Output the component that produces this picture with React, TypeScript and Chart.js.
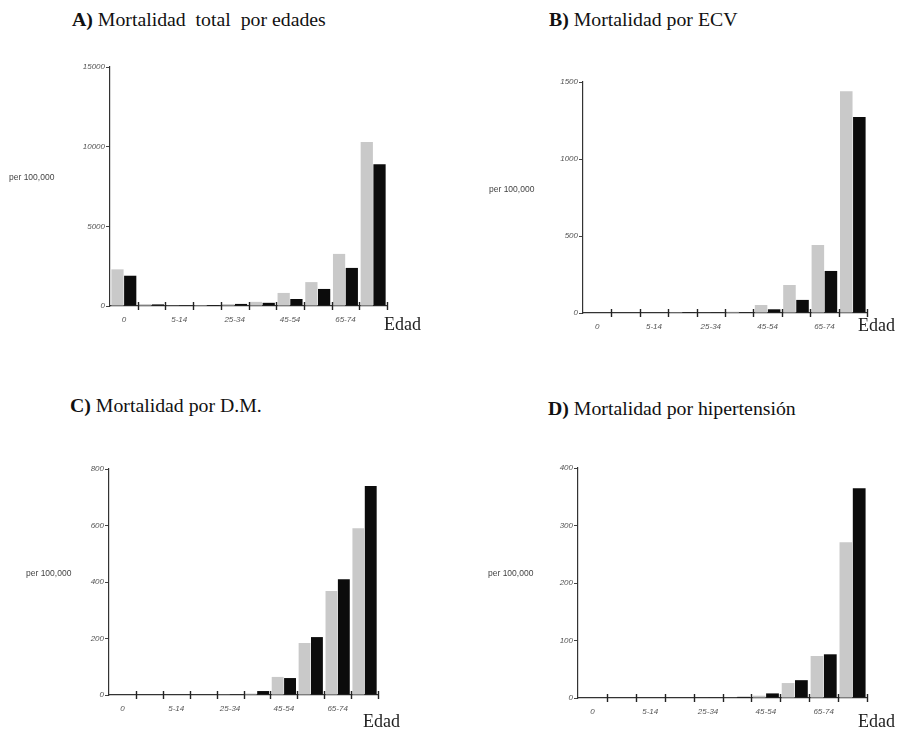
import React, { useEffect, useRef } from "react";
import { Chart, registerables } from "chart.js";
Chart.register(...registerables);

const ageGroups = ["0", "1-4", "5-14", "15-24", "25-34", "35-44", "45-54", "55-64", "65-74", "75+"];
const shownAgeLabels = ["0", "", "5-14", "", "25-34", "", "45-54", "", "65-74", ""];

const totalGrey = [2300, 120, 40, 60, 120, 260, 820, 1500, 3270, 10300];
const totalBlack = [1900, 100, 40, 60, 130, 200, 440, 1070, 2390, 8900];

const ecvGrey = [0, 0, 0, 1, 3, 8, 52, 182, 441, 1440];
const ecvBlack = [0, 0, 0, 1, 2, 5, 24, 85, 273, 1273];

const dmGrey = [0, 0, 0, 0, 1, 5, 64, 184, 368, 590];
const dmBlack = [0, 0, 0, 0, 2, 14, 60, 205, 410, 740];

const htaGrey = [0, 0, 0, 0, 0, 1, 4, 26, 73, 271];
const htaBlack = [0, 0, 0, 0, 1, 2, 8, 31, 76, 365];

const panels = [
  { key: "A", letter: "A)", title: " Mortalidad  total  por edades", grey: totalGrey, black: totalBlack, max: 15000, step: 5000, axisX: 110, right: 387, topY: 67, zeroY: 306, titleX: 72, titleY: 10, perX: 9, perY: 172, edadX: 384, edadY: 315 },
  { key: "B", letter: "B)", title: " Mortalidad por ECV", grey: ecvGrey, black: ecvBlack, max: 1500, step: 500, axisX: 583, right: 867, topY: 82, zeroY: 313, titleX: 549, titleY: 10, perX: 489, perY: 184, edadX: 858, edadY: 316 },
  { key: "C", letter: "C)", title: " Mortalidad por D.M.", grey: dmGrey, black: dmBlack, max: 800, step: 200, axisX: 109, right: 378, topY: 469, zeroY: 695, titleX: 70, titleY: 396, perX: 26, perY: 568, edadX: 363, edadY: 712 },
  { key: "D", letter: "D)", title: " Mortalidad por hipertensión", grey: htaGrey, black: htaBlack, max: 400, step: 100, axisX: 578, right: 867, topY: 468, zeroY: 698, titleX: 548, titleY: 399, perX: 488, perY: 568, edadX: 858, edadY: 712 },
];

const PADL = 60;
const PADT = 12;
const PADR = 12;
const PADB = 28;

const crossTicks = {
  id: "crossTicks",
  afterDraw(chart: any) {
    const xs = chart.scales.x;
    const area = chart.chartArea;
    const ctx = chart.ctx;
    const n = xs.ticks.length;
    ctx.save();
    ctx.strokeStyle = "#222";
    ctx.lineWidth = 1.4;
    for (let i = 1; i <= n; i++) {
      const x = Math.round(xs.getPixelForValue(i - 0.5)) + 0.5;
      ctx.beginPath();
      ctx.moveTo(x, area.bottom - 4);
      ctx.lineTo(x, area.bottom + 4);
      ctx.stroke();
    }
    ctx.restore();
  },
};

function Panel({ p }: { p: any }) {
  const ref = useRef<HTMLCanvasElement>(null);
  useEffect(() => {
    const chart = new Chart(ref.current!, {
      type: "bar",
      data: {
        labels: ageGroups,
        datasets: [
          { data: p.grey, backgroundColor: "#c9c9c9", borderWidth: 0 },
          { data: p.black, backgroundColor: "#0c0c0c", borderWidth: 0 },
        ],
      },
      options: {
        animation: false,
        responsive: false,
        maintainAspectRatio: false,
        layout: { padding: { top: PADT, right: PADR, left: 0, bottom: 0 } },
        plugins: { legend: { display: false }, tooltip: { enabled: false }, title: { display: false } },
        datasets: { bar: { categoryPercentage: 0.92, barPercentage: 0.96 } },
        scales: {
          x: {
            offset: true,
            grid: { display: false, drawOnChartArea: false },
            border: { display: true, color: "#333", width: 1.2 },
            ticks: {
              autoSkip: false,
              maxRotation: 0,
              minRotation: 0,
              padding: 1,
              color: "#555",
              font: { family: "Liberation Sans, Arial", size: 8, style: "italic" },
              callback: (_v: any, i: number) => shownAgeLabels[i],
            },
            afterFit: (s: any) => { s.height = PADB; },
          },
          y: {
            min: 0,
            max: p.max,
            grid: { drawOnChartArea: false, drawTicks: true, tickLength: 4, color: "#444" },
            border: { display: true, color: "#333", width: 1.2 },
            ticks: {
              stepSize: p.step,
              padding: 1,
              color: "#555",
              font: { family: "Liberation Sans, Arial", size: 8, style: "italic" },
              callback: (v: any) => String(v),
            },
            afterFit: (s: any) => { s.width = PADL; },
          },
        },
      },
      plugins: [crossTicks],
    });
    return () => chart.destroy();
  }, []);

  const w = p.right - p.axisX + PADL + PADR;
  const h = p.zeroY - p.topY + PADT + PADB;
  const serif = "'Liberation Serif', 'Times New Roman', serif";
  return (
    <>
      <div style={{ position: "absolute", left: p.titleX, top: p.titleY, font: `19.8px/19px ${serif}`, color: "#111", whiteSpace: "pre" }}>
        <b>{p.letter}</b>{p.title}
      </div>
      <canvas ref={ref} width={w} height={h} style={{ position: "absolute", left: p.axisX - PADL, top: p.topY - PADT, width: w, height: h }} />
      <div style={{ position: "absolute", left: p.perX, top: p.perY, font: "8.5px/10px 'Liberation Sans', Arial, sans-serif", color: "#444", whiteSpace: "pre" }}>
        per 100,000
      </div>
      <div style={{ position: "absolute", left: p.edadX, top: p.edadY, font: `18px/18px ${serif}`, color: "#222" }}>Edad</div>
    </>
  );
}

export default function App() {
  return (
    <div style={{ position: "fixed", left: 0, top: 0, width: 902, height: 730, background: "#fff", overflow: "hidden" }}>
      {panels.map((p) => (
        <Panel key={p.key} p={p} />
      ))}
    </div>
  );
}
